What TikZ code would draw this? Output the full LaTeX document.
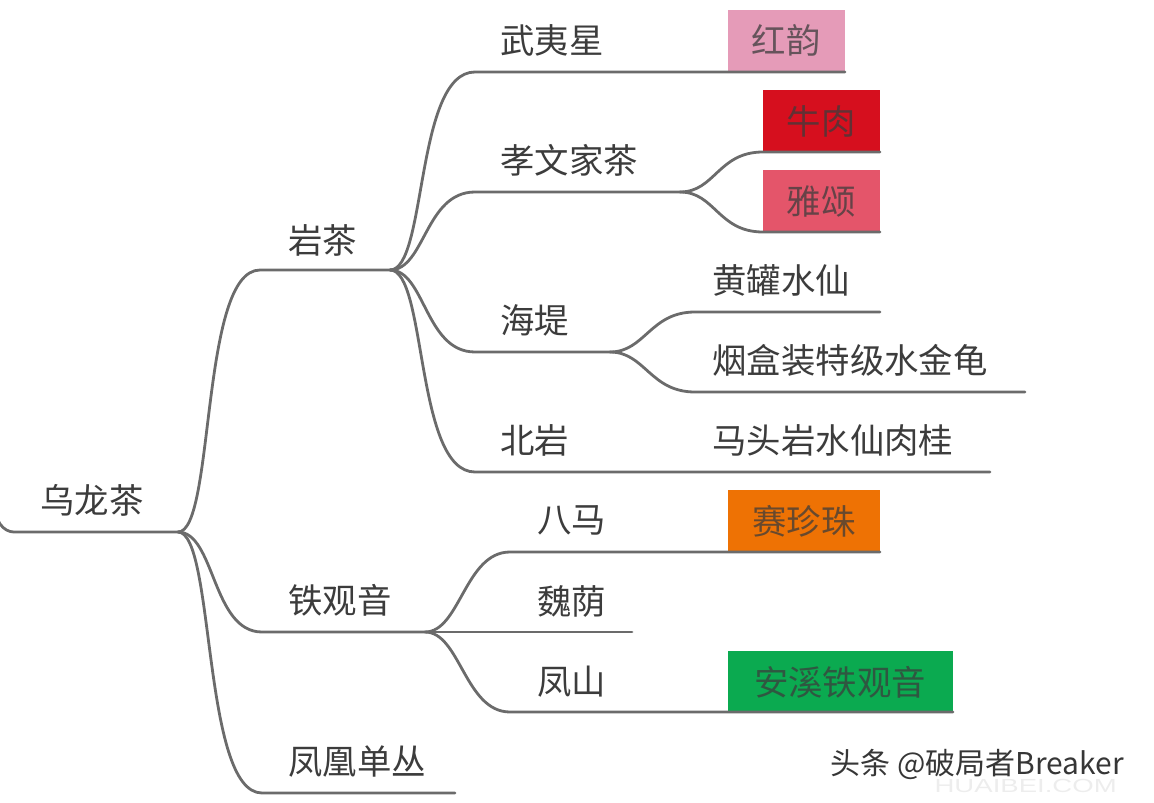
\documentclass[tikz,border=0pt]{standalone}
\usepackage{fontspec}
\setmainfont{Noto Sans CJK SC}
\newfontfamily\wmfont{Liberation Sans}
\definecolor{linec}{HTML}{6B6B6B}
\definecolor{txtc}{HTML}{3C3C3C}
\definecolor{pinkb}{HTML}{E59BB8}
\definecolor{redb}{HTML}{D60F1E}
\definecolor{roseb}{HTML}{E4556A}
\definecolor{orangeb}{HTML}{EE7204}
\definecolor{greenb}{HTML}{0BAA50}
\begin{document}
\begin{tikzpicture}[x=0.5pt,y=-0.5pt,
  lbl/.style={anchor=west,inner sep=0pt,text=txtc,font=\fontsize{17.2}{20}\selectfont},
  boxlbl/.style={inner sep=0pt,text=txtc,text opacity=0.75,font=\fontsize{17.2}{20}\selectfont},
  conn/.style={draw=linec,line width=1.4pt,line cap=round},
  boxfill/.style={inner sep=0pt,draw=none}]
\useasboundingbox (0,0) rectangle (1154,802);
% boxes
\fill[pinkb] (728,10) rectangle (845,71);
\fill[redb] (763,90) rectangle (880,152);
\fill[roseb] (763,170) rectangle (880,232);
\fill[orangeb] (728,490) rectangle (880,552);
\fill[greenb] (728,651) rectangle (953,712);
% coordinates
\coordinate (rootin) at (-6,500);
\coordinate (rootl) at (14,532);
\coordinate (R) at (178,532);
\coordinate (c1a) at (260,270); \coordinate (Y) at (390,270);
\coordinate (c1b) at (262,632); \coordinate (T) at (425,632);
\coordinate (c1c) at (262,793); \coordinate (c1ce) at (455,793);
\coordinate (c2a) at (475,72);  \coordinate (c2ae) at (845,72);
\coordinate (c2b) at (475,192); \coordinate (X) at (680,192);
\coordinate (c2c) at (475,352); \coordinate (H) at (610,352);
\coordinate (c2d) at (475,472); \coordinate (c2de) at (990,472);
\coordinate (c3a) at (763,152); \coordinate (c3ae) at (880,152);
\coordinate (c3b) at (763,232); \coordinate (c3be) at (880,232);
\coordinate (c4a) at (695,312); \coordinate (c4ae) at (880,312);
\coordinate (c4b) at (695,392); \coordinate (c4be) at (1025,392);
\coordinate (c5a) at (510,552); \coordinate (c5ae) at (880,552);
\coordinate (c5b) at (510,632); \coordinate (c5be) at (632,632);
\coordinate (c5c) at (510,712); \coordinate (c5ce) at (953,712);
% connectors
\draw[conn] (rootin) .. controls +(0,22) and +(-10,0) .. (rootl) -- (R);
\draw[conn] (R) .. controls +(37,0) and +(-60,0) .. (c1a) -- (Y);
\draw[conn] (R) .. controls +(37,0) and +(-50,0) .. (c1b) -- (T);
\draw[conn] (R) .. controls +(37,0) and +(-60,0) .. (c1c) -- (c1ce);
\draw[conn] (Y) .. controls +(37,0) and +(-60,0) .. (c2a) -- (c2ae);
\draw[conn] (Y) .. controls +(35,0) and +(-50,0) .. (c2b) -- (X);
\draw[conn] (Y) .. controls +(35,0) and +(-50,0) .. (c2c) -- (H);
\draw[conn] (Y) .. controls +(37,0) and +(-60,0) .. (c2d) -- (c2de);
\draw[conn] (X) .. controls +(35,0) and +(-45,0) .. (c3a) -- (c3ae);
\draw[conn] (X) .. controls +(35,0) and +(-45,0) .. (c3b) -- (c3be);
\draw[conn] (H) .. controls +(35,0) and +(-45,0) .. (c4a) -- (c4ae);
\draw[conn] (H) .. controls +(35,0) and +(-45,0) .. (c4b) -- (c4be);
\draw[conn] (T) .. controls +(35,0) and +(-45,0) .. (c5a) -- (c5ae);
\draw[conn] (T) -- (c5b) -- (c5be);
\draw[conn] (T) .. controls +(35,0) and +(-45,0) .. (c5c) -- (c5ce);
% labels
\node[lbl] (root) at (40,500) {乌龙茶};
\node[lbl] (yan) at (288,240) {岩茶};
\node[lbl] (tgy) at (288,600) {铁观音};
\node[lbl] (fh) at (288,762) {凤凰单丛};
\node[lbl] (wyx) at (500,40) {武夷星};
\node[lbl] (xwj) at (500,160) {孝文家茶};
\node[lbl] (hd) at (500,320) {海堤};
\node[lbl] (by) at (500,440) {北岩};
\node[lbl] (hg) at (712,280) {黄罐水仙};
\node[lbl] (yh) at (712,360) {烟盒装特级水金龟};
\node[lbl] (mt) at (712,440) {马头岩水仙肉桂};
\node[lbl] (bm) at (537,520) {八马};
\node[lbl] (wy) at (537,602) {魏荫};
\node[lbl] (fs) at (537,682) {凤山};
\node[boxlbl] (hy) at (786,40) {红韵};
\node[boxlbl] (nr) at (821,121) {牛肉};
\node[boxlbl] (ys) at (821,201) {雅颂};
\node[boxlbl] (szz) at (804,521) {赛珍珠};
\node[boxlbl] (ax) at (840,682) {安溪铁观音};
% watermark
\node[anchor=west,inner sep=0pt,text=black!7,xscale=1.45,font=\wmfont\fontsize{9.5}{10}\selectfont] (wm) at (934,786) {HUAIBEI.COM};
\node[anchor=west,inner sep=0pt,text=txtc!90!black,font=\fontsize{15}{17}\selectfont] (tt) at (830,764) {头条 @破局者Breaker};
\end{tikzpicture}
\end{document}
